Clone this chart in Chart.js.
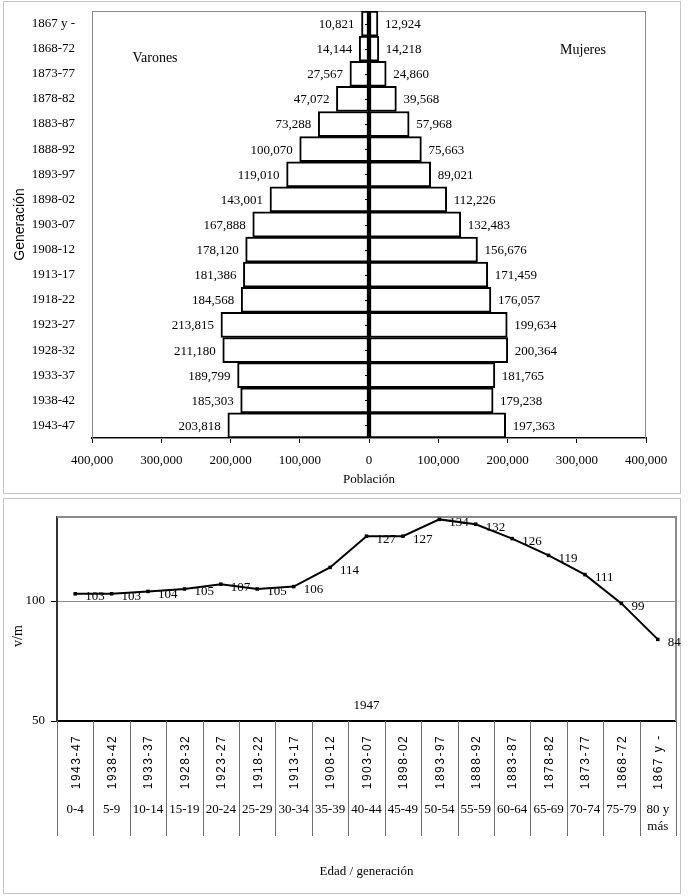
<!DOCTYPE html>
<html>
<head>
<meta charset="utf-8">
<script src="https://cdn.jsdelivr.net/npm/chart.js@4"></script>
<style>
  body { margin: 0; background: #fff; width: 688px; height: 896px; position: relative; overflow: hidden; }
  .marco { position: absolute; border: 1px solid #c4c4c4; box-sizing: border-box; }
  canvas { position: absolute; }
</style>
</head>
<body>
<div class="marco" style="left:3px;top:1px;width:678px;height:493px"></div>
<div class="marco" style="left:3px;top:498px;width:678px;height:396px"></div>
<canvas id="piramide" style="left:0;top:0" width="688" height="496"></canvas>
<canvas id="razon" style="left:0;top:496px" width="688" height="400"></canvas>
<script>
// Pirámide por generación
const generaciones = ["1867 y -", "1868-72", "1873-77", "1878-82", "1883-87", "1888-92", "1893-97", "1898-02",
  "1903-07", "1908-12", "1913-17", "1918-22", "1923-27", "1928-32", "1933-37", "1938-42", "1943-47"];
const varones = [10821, 14144, 27567, 47072, 73288, 100070, 119010, 143001,
  167888, 178120, 181386, 184568, 213815, 211180, 189799, 185303, 203818];
const mujeres = [12924, 14218, 24860, 39568, 57968, 75663, 89021, 112226,
  132483, 156676, 171459, 176057, 199634, 200364, 181765, 179238, 197363];

// Razón de masculinidad (v/m)
const generacionesRazon = ["1943-47", "1938-42", "1933-37", "1928-32", "1923-27", "1918-22", "1913-17", "1908-12",
  "1903-07", "1898-02", "1893-97", "1888-92", "1883-87", "1878-82", "1873-77", "1868-72", "1867 y -"];
const edades = ["0-4", "5-9", "10-14", "15-19", "20-24", "25-29", "30-34", "35-39", "40-44",
  "45-49", "50-54", "55-59", "60-64", "65-69", "70-74", "75-79", ["80 y", "más"]];
const razon = [103, 103, 104, 105, 107, 105, 106, 114, 127, 127, 134, 132, 126, 119, 111, 99, 84];
const ticksRazon = [50, 100];

const serif = '"Liberation Serif", "Times New Roman", serif';
const sans = '"Liberation Sans", Arial, sans-serif';
Chart.defaults.font.family = serif;
Chart.defaults.font.size = 13;
Chart.defaults.color = "#000";

const fmt = (v) => Math.abs(v).toLocaleString("en-US");

// dibuja marco, eje central y etiquetas de la pirámide
const extrasPiramide = {
  id: "extrasPiramide",
  beforeDatasetsDraw(chart) {
    const { ctx, chartArea: a } = chart;
    ctx.save();
    ctx.strokeStyle = "#8a8a8a";
    ctx.lineWidth = 1;
    ctx.strokeRect(a.left + 0.5, a.top + 0.5, a.right - a.left - 1, a.bottom - a.top);
    ctx.restore();
  },
  afterDatasetsDraw(chart) {
    const { ctx, chartArea: a } = chart;
    const x = chart.scales.x, y = chart.scales.y;
    const x0 = x.getPixelForValue(0);
    ctx.save();
    ctx.strokeStyle = "#000";
    ctx.lineWidth = 2;
    ctx.beginPath();
    ctx.moveTo(x0, a.top);
    ctx.lineTo(x0, a.bottom);
    ctx.stroke();
    ctx.lineWidth = 1;
    ctx.font = "13px " + serif;
    ctx.fillStyle = "#000";
    ctx.textBaseline = "middle";
    generaciones.forEach((g, i) => {
      const yy = y.getPixelForValue(i);
      ctx.beginPath();
      ctx.moveTo(x0 - 4, Math.round(yy) + 0.5);
      ctx.lineTo(x0, Math.round(yy) + 0.5);
      ctx.stroke();
      ctx.textAlign = "right";
      ctx.fillText(fmt(varones[i]), x.getPixelForValue(-varones[i]) - 7, yy + 1);
      ctx.textAlign = "left";
      ctx.fillText(fmt(mujeres[i]), x.getPixelForValue(mujeres[i]) + 7, yy + 1);
    });
    ctx.textAlign = "center";
    ctx.font = "14px " + serif;
    ctx.fillText("Varones", x.getPixelForValue(-309000), y.getPixelForValue(1.4));
    ctx.fillText("Mujeres", x.getPixelForValue(309000), y.getPixelForValue(1.05));
    ctx.restore();
  }
};

new Chart(document.getElementById("piramide"), {
  type: "bar",
  data: {
    labels: generaciones,
    datasets: [
      { label: "Varones", data: varones.map(v => -v), backgroundColor: "#fff", borderColor: "#000", borderWidth: 2, borderSkipped: false },
      { label: "Mujeres", data: mujeres, backgroundColor: "#fff", borderColor: "#000", borderWidth: 2, borderSkipped: false }
    ]
  },
  options: {
    indexAxis: "y",
    responsive: false,
    animation: false,
    layout: { padding: { top: 11, right: 42, left: 0, bottom: 0 } },
    datasets: { bar: { barPercentage: 1, categoryPercentage: 1 } },
    plugins: { legend: { display: false }, tooltip: { enabled: false } },
    scales: {
      x: {
        stacked: true,
        min: -400000,
        max: 400000,
        ticks: { stepSize: 100000, callback: (v) => fmt(v), padding: 10, font: { size: 13 } },
        grid: { drawOnChartArea: false, drawTicks: true, tickLength: 5, color: "#000" },
        border: { display: true, color: "#000", width: 2 },
        title: { display: true, text: "Población", font: { size: 13 }, padding: { top: 0, bottom: 9 } },
        afterFit: (s) => { s.height = 58; }
      },
      y: {
        stacked: true,
        ticks: { padding: 9, font: { size: 13 } },
        grid: { display: false },
        border: { display: false },
        title: { display: true, text: "Generación", font: { family: sans, size: 14 }, padding: { top: 12, bottom: 0 } },
        afterFit: (s) => { s.width = 92; s.paddingTop = 0; s.paddingBottom = 0; }
      }
    }
  },
  plugins: [extrasPiramide]
});

// dibuja marco, etiquetas de puntos y la tabla del eje x
const extrasRazon = {
  id: "extrasRazon",
  beforeDatasetsDraw(chart) {
    const { ctx, chartArea: a } = chart;
    ctx.save();
    ctx.strokeStyle = "#8a8a8a";
    ctx.lineWidth = 2;
    ctx.beginPath();
    ctx.moveTo(a.left, a.top);
    ctx.lineTo(a.right, a.top);
    ctx.lineTo(a.right, a.bottom);
    ctx.stroke();
    ctx.restore();
  },
  afterDatasetsDraw(chart) {
    const { ctx } = chart;
    const meta = chart.getDatasetMeta(0);
    ctx.save();
    ctx.font = "13px " + serif;
    ctx.fillStyle = "#000";
    ctx.textAlign = "left";
    ctx.textBaseline = "middle";
    meta.data.forEach((p, i) => {
      ctx.fillText(String(razon[i]), p.x + 10, p.y + 3);
    });
    ctx.restore();
  },
  afterDraw(chart) {
    const { ctx, chartArea: a } = chart;
    const x = chart.scales.x;
    const half = (x.getPixelForValue(1) - x.getPixelForValue(0)) / 2;
    ctx.save();
    ctx.strokeStyle = "#6e6e6e";
    ctx.lineWidth = 1;
    for (let i = 0; i <= generacionesRazon.length; i++) {
      const xx = Math.round(x.getPixelForValue(i) - half) + 0.5;
      ctx.beginPath();
      ctx.moveTo(xx, a.bottom);
      ctx.lineTo(xx, a.bottom + 115);
      ctx.stroke();
    }
    ctx.fillStyle = "#000";
    generacionesRazon.forEach((g, i) => {
      const xx = x.getPixelForValue(i);
      ctx.save();
      ctx.translate(xx + 1, a.bottom + 41);
      ctx.rotate(-Math.PI / 2);
      ctx.font = "12px " + sans;
      ctx.letterSpacing = "1.5px";
      ctx.textAlign = "center";
      ctx.textBaseline = "middle";
      ctx.fillText(g, 0, 0);
      ctx.restore();
      const lineas = Array.isArray(edades[i]) ? edades[i] : [edades[i]];
      ctx.font = "13px " + serif;
      ctx.textAlign = "center";
      ctx.textBaseline = "middle";
      lineas.forEach((t, k) => ctx.fillText(t, xx, a.bottom + 89 + k * 17));
    });
    ctx.font = "13px " + serif;
    ctx.fillText("1947", (a.left + a.right) / 2, a.bottom - 15);
    // título del eje y
    ctx.save();
    ctx.translate(18, 140);
    ctx.rotate(-Math.PI / 2);
    ctx.font = "14px " + serif;
    ctx.fillText("v/m", 0, 0);
    ctx.restore();
    ctx.restore();
  }
};

new Chart(document.getElementById("razon"), {
  type: "line",
  data: {
    labels: generacionesRazon,
    datasets: [{
      label: "v/m",
      data: razon,
      borderColor: "#000",
      backgroundColor: "#000",
      borderWidth: 2,
      tension: 0,
      pointStyle: "rect",
      pointRadius: 2.5,
      pointBorderWidth: 0
    }]
  },
  options: {
    responsive: false,
    animation: false,
    layout: { padding: { top: 21, right: 12, left: 0, bottom: 0 } },
    plugins: { legend: { display: false }, tooltip: { enabled: false } },
    scales: {
      x: {
        offset: true,
        ticks: { display: false },
        grid: { display: false },
        border: { display: true, color: "#000", width: 2 },
        title: { display: true, text: "Edad / generación", font: { size: 13 }, padding: { top: 0, bottom: 17 } },
        afterFit: (s) => { s.height = 175; }
      },
      y: {
        min: 50,
        max: 135,
        afterBuildTicks: (s) => { s.ticks = ticksRazon.map(v => ({ value: v })); },
        ticks: { padding: 6, font: { size: 13 } },
        grid: { color: "#8a8a8a", lineWidth: 1, tickLength: 6, tickColor: "#000" },
        border: { display: true, color: "#333", width: 2 },
        afterFit: (s) => { s.width = 57; s.paddingTop = 0; s.paddingBottom = 0; }
      }
    }
  },
  plugins: [extrasRazon]
});
</script>
</body>
</html>
